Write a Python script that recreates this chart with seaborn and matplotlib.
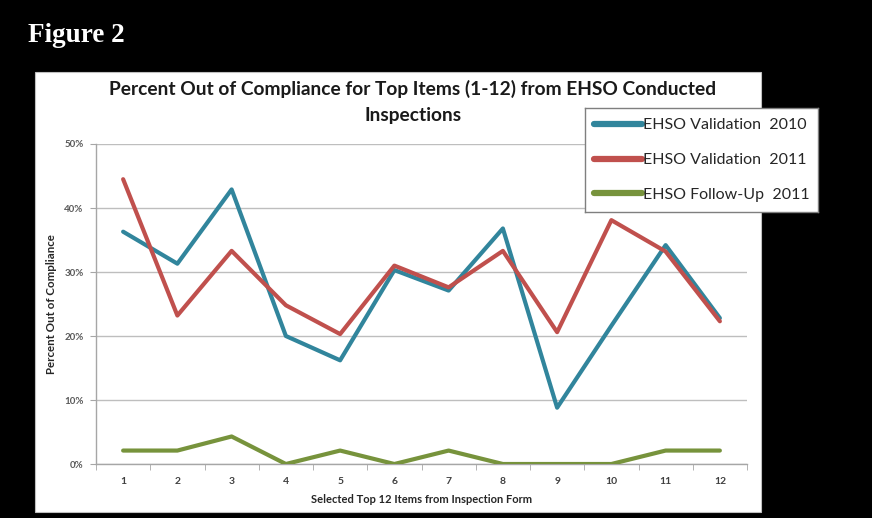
import numpy as np
import pandas as pd
import matplotlib
matplotlib.use("Agg")
import matplotlib.pyplot as plt
from matplotlib.patches import Rectangle
from matplotlib.ticker import PercentFormatter, MultipleLocator
import seaborn as sns

# values (fractions)
items = list(range(1, 13))
validation_2010 = [0.363, 0.313, 0.429, 0.200, 0.162, 0.303, 0.271, 0.368, 0.088, 0.216, 0.342, 0.228]
validation_2011 = [0.445, 0.232, 0.333, 0.248, 0.203, 0.310, 0.276, 0.333, 0.206, 0.381, 0.332, 0.223]
followup_2011 = [0.021, 0.021, 0.043, 0.0, 0.021, 0.0, 0.021, 0.0, 0.0, 0.0, 0.021, 0.021]
series_names = ["EHSO Validation  2010", "EHSO Validation  2011", "EHSO Follow-Up  2011"]
colors = ["#31859C", "#C0504D", "#77933C"]

df = pd.concat([
    pd.DataFrame({"item": items, "pct": validation_2010, "series": series_names[0]}),
    pd.DataFrame({"item": items, "pct": validation_2011, "series": series_names[1]}),
    pd.DataFrame({"item": items, "pct": followup_2011, "series": series_names[2]}),
])

sns.set_style("white")
plt.rcParams['font.family'] = ['Lato', 'DejaVu Sans']

W, H = 872, 518
fig = plt.figure(figsize=(W / 100, H / 100), dpi=100, facecolor="black")

# white chart panel (behind the axes)
fig.patches.append(Rectangle((35 / W, 1 - 512 / H), (761 - 35) / W, (512 - 72) / H,
                             transform=fig.transFigure, facecolor="white",
                             edgecolor="#BFBFBF", lw=0.8, zorder=-5))

ax = fig.add_axes([96 / W, 1 - 464 / H, (747 - 96) / W, (464 - 144) / H])
ax.set_facecolor("white")

sns.lineplot(data=df, x="item", y="pct", hue="series", palette=colors,
             linewidth=3.0, ax=ax, legend=False, zorder=3)

ax.set_xlim(0.5, 12.5)
ax.set_ylim(0, 0.5)
ax.yaxis.set_major_locator(MultipleLocator(0.1))
ax.yaxis.set_major_formatter(PercentFormatter(1.0, decimals=0))
ax.set_xticks(items)
ax.set_xticks(np.arange(0.5, 13, 1), minor=True)
ax.grid(axis="y", color="#BEBEBE", lw=1)
ax.set_axisbelow(True)
for s in ["top", "right"]:
    ax.spines[s].set_visible(False)
for s in ["left", "bottom"]:
    ax.spines[s].set_color("#A6A6A6")
    ax.spines[s].set_linewidth(1)
ax.tick_params(axis="x", which="major", length=0, pad=9, labelsize=7.5, labelcolor="#404040")
ax.tick_params(axis="x", which="minor", length=4, direction="out", color="#A6A6A6", bottom=True)
ax.tick_params(axis="y", which="major", length=4, direction="out", color="#A6A6A6", left=True,
               labelsize=7, labelcolor="#595959", pad=5)
for lab in ax.get_xticklabels():
    lab.set_fontweight("bold")
for lab in ax.get_yticklabels():
    lab.set_fontweight("bold")

ax.set_xlabel("Selected Top 12 Items from Inspection Form", fontsize=8, fontweight="bold",
              labelpad=6)
ax.set_ylabel("Percent Out of Compliance", fontsize=8.3, fontweight="bold", labelpad=5)

fig.text(28 / W, 1 - 36 / H, "Figure 2", color="white", fontsize=19.5, fontweight="bold",
         family="Liberation Serif", va="center", ha="left")
fig.text(413 / W, 1 - 89 / H, "Percent Out of Compliance for Top Items (1-12) from EHSO Conducted",
         fontsize=13.8, fontweight="bold", ha="center", va="center", color="#1a1a1a")
fig.text(413 / W, 1 - 116 / H, "Inspections",
         fontsize=13.8, fontweight="bold", ha="center", va="center", color="#1a1a1a")

# legend box sticking out of the panel
lax = fig.add_axes([585 / W, 1 - 212 / H, (818 - 585) / W, (212 - 108) / H])
lax.set_xlim(0, 1)
lax.set_ylim(0, 1)
lax.set_xticks([])
lax.set_yticks([])
for s in lax.spines.values():
    s.set_color("#7F7F7F")
    s.set_linewidth(1)
lax.set_facecolor("white")
handles = [plt.Line2D([], [], color=c, lw=4.5, solid_capstyle="round") for c in colors]
lax.legend(handles, series_names, loc="center", frameon=False, fontsize=11.5,
           handlelength=3.0, handletextpad=0.05, labelspacing=1.3, borderaxespad=0)

fig.savefig("out.png", dpi=100, facecolor="black")
